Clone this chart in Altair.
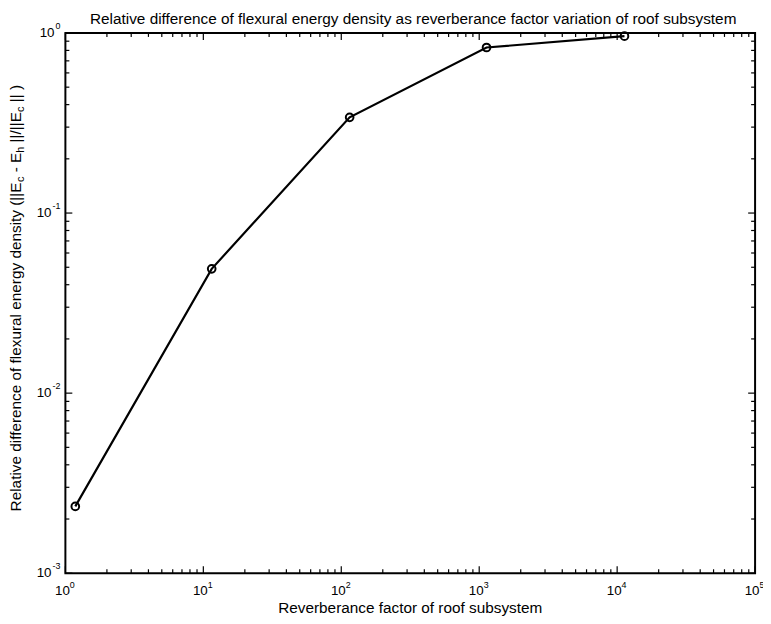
import altair as alt
import pandas as pd

# ---- data ----
x_vals = [1.18, 11.5, 115, 1130, 11300]
y_vals = [0.00235, 0.049, 0.34, 0.83, 0.96]

x_major = [1, 10, 100, 1000, 10000, 100000]
x_exps = ["0", "1", "2", "3", "4", "5"]
y_major = [0.001, 0.01, 0.1, 1]
y_exps = ["-3", "-2", "-1", "0"]
minor_mult = [2, 3, 4, 5, 6, 7, 8, 9]

title_text = "Relative difference of flexural energy density as reverberance factor variation of roof subsystem"
xtitle_text = "Reverberance factor of roof subsystem"
ytitle_parts = [
    ("Relative difference of flexural energy density (||E", False),
    ("c", True),
    (" - E", False),
    ("h", True),
    (" ||/||E", False),
    ("c", True),
    (" || )", False),
]

# ---- layout ----
W, H = 697, 546
FONT = "Liberation Sans"
FS = 15.5    # label font size
TFS = 13.5   # tick label font size
SUP = 9
SUBFS = 11
MAJ, MIN = 7, 4

xs = alt.Scale(type="log", domain=[1, 1e5])
ys = alt.Scale(type="log", domain=[1e-3, 1])
one = pd.DataFrame({"a": [0]})

df = pd.DataFrame({"x": x_vals, "y": y_vals})
X = alt.X("x:Q", scale=xs, axis=None)
Y = alt.Y("y:Q", scale=ys, axis=None)

line = alt.Chart(df).mark_line(color="black", strokeWidth=2.2).encode(x=X, y=Y)
pts = alt.Chart(df).mark_point(shape="circle", filled=False, color="black",
                               size=60, strokeWidth=2, opacity=1).encode(x=X, y=Y)

x_minor = [m * 10 ** d for d in range(5) for m in minor_mult]
y_minor = [m * 10.0 ** d for d in (-3, -2, -1) for m in minor_mult]

layers = [line, pts]


def xtick(vals, L):
    d = pd.DataFrame({"v": vals})
    xe = alt.X("v:Q", scale=xs, axis=None)
    b = alt.Chart(d).mark_rule(color="black", strokeWidth=1.2).encode(
        x=xe, y=alt.value(H), y2=alt.value(H - L))
    t = alt.Chart(d).mark_rule(color="black", strokeWidth=1.2).encode(
        x=xe, y=alt.value(0), y2=alt.value(L))
    return [b, t]


def ytick(vals, L):
    d = pd.DataFrame({"v": vals})
    ye = alt.Y("v:Q", scale=ys, axis=None)
    l = alt.Chart(d).mark_rule(color="black", strokeWidth=1.2).encode(
        y=ye, x=alt.value(0), x2=alt.value(L))
    r = alt.Chart(d).mark_rule(color="black", strokeWidth=1.2).encode(
        y=ye, x=alt.value(W), x2=alt.value(W - L))
    return [l, r]


layers += xtick(x_major, MAJ) + xtick(x_minor, MIN)
layers += ytick(y_major, MAJ) + ytick(y_minor, MIN)

# x tick labels
xl = pd.DataFrame({"v": x_major, "e": x_exps})
layers.append(alt.Chart(xl).mark_text(text="10", font=FONT, fontSize=TFS, align="center",
                                      baseline="alphabetic", dx=-3, color="black").encode(
    x=alt.X("v:Q", scale=xs, axis=None), y=alt.value(H + 22)))
layers.append(alt.Chart(xl).mark_text(font=FONT, fontSize=SUP, align="left",
                                      baseline="alphabetic", dx=4.5, color="black").encode(
    x=alt.X("v:Q", scale=xs, axis=None), y=alt.value(H + 15), text="e:N"))

# y tick labels
yl = pd.DataFrame({"v": y_major, "e": y_exps})
layers.append(alt.Chart(yl).transform_calculate(
    px="length(datum.e) > 1 ? -14 : -11").mark_text(
    text="10", font=FONT, fontSize=TFS, align="right", baseline="middle", color="black").encode(
    y=alt.Y("v:Q", scale=ys, axis=None), x=alt.X("px:Q", scale=None)))
layers.append(alt.Chart(yl).mark_text(font=FONT, fontSize=SUP, align="right",
                                      baseline="alphabetic", dy=-4, color="black").encode(
    y=alt.Y("v:Q", scale=ys, axis=None), x=alt.value(-5), text="e:N"))

# titles
layers.append(alt.Chart(one).mark_text(text=title_text, font=FONT, fontSize=FS, align="center",
                                       baseline="alphabetic", color="black").encode(
    x=alt.value(W / 2 + 3), y=alt.value(-9)))
layers.append(alt.Chart(one).mark_text(text=xtitle_text, font=FONT, fontSize=FS, align="center",
                                       baseline="alphabetic", color="black").encode(
    x=alt.value(W / 2), y=alt.value(H + 40)))

# y title with subscripts, rotated (pieces laid out along the axis)
AW = {' ': 278, 'R': 722, 'e': 556, 'l': 222, 'a': 556, 't': 278, 'i': 222, 'v': 500,
      'd': 556, 'f': 278, 'r': 333, 'n': 556, 'c': 500, 'o': 556, 'x': 500, 'u': 556,
      'g': 556, 'y': 500, 's': 500, '(': 333, ')': 333, '|': 260, 'E': 667, '-': 333,
      '/': 278, 'h': 556}


def tw(s, size):
    return sum(AW.get(ch, 556) for ch in s) / 1000.0 * size


total = sum(tw(t, SUBFS if sub else FS) for t, sub in ytitle_parts)
ypos = H / 2 - 5 + total / 2
base_x = -45
for t, sub in ytitle_parts:
    size = SUBFS if sub else FS
    xx = base_x + (3.5 if sub else 0)
    stripped = t.strip(" ")
    lead = len(t) - len(t.lstrip(" "))
    ypos -= tw(" " * lead, size)
    layers.append(alt.Chart(one).mark_text(text=stripped, font=FONT, fontSize=size, angle=270,
                                           align="left", baseline="alphabetic",
                                           color="black").encode(
        x=alt.value(xx), y=alt.value(ypos)))
    ypos -= tw(t[lead:], size)

chart = alt.layer(*layers).properties(
    width=W, height=H, autosize="none",
    padding={"left": 58, "top": 22, "right": 8, "bottom": 40},
    background="white",
).configure_view(stroke="black", strokeWidth=2)

chart.save("out.html", embed_options={"renderer": "svg", "actions": False})
